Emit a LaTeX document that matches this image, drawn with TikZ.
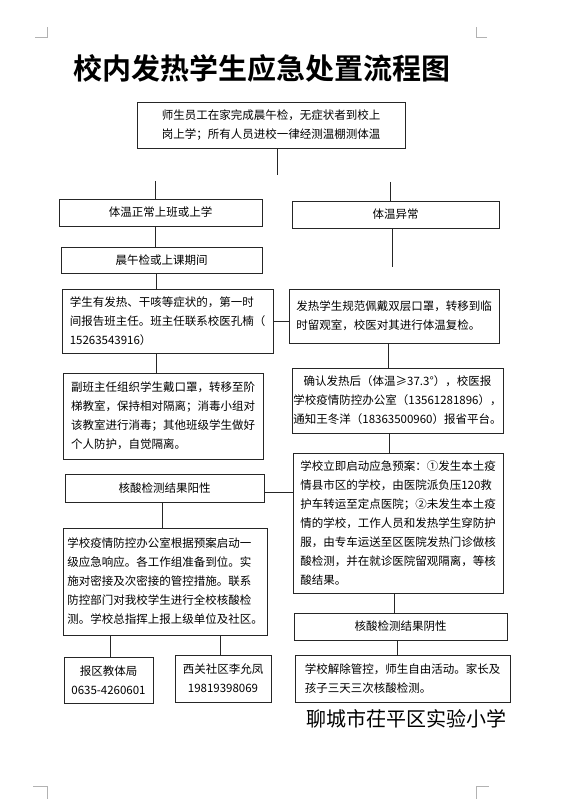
\documentclass[tikz,border=0pt]{standalone}
\usepackage{fontspec}
\setmainfont{Noto Sans CJK SC}
\newfontfamily\titlefont{Noto Sans CJK SC Bold}
\usetikzlibrary{positioning}

\begin{document}
\begin{tikzpicture}[
x=1pt, y=-1pt,
box/.style={rectangle, draw=black!85, line width=0.8pt, inner sep=0pt, align=center,
  font=\fontsize{11.5}{19}\selectfont},
leftbox/.style={box, align=left},
link/.style={draw=black!85, line width=0.8pt},
corner/.style={draw=black!30, line width=0.6pt}
]
\useasboundingbox (0,0) rectangle (570,799);

% page corner marks
\draw[corner] (35,37) -- (47,37) -- (47,27);
\draw[corner] (487,37) -- (476,37) -- (476,27);
\draw[corner] (33,786) -- (47,786) -- (47,799);
\draw[corner] (489,786) -- (476,786) -- (476,799);

% title
\node[font=\titlefont\fontsize{29}{32}\selectfont] (title) at (262,68) {校内发热学生应急处置流程图};

% boxes
\node[box, minimum width=268, minimum height=46] (check) at (271,125)
  {师生员工在家完成晨午检，无症状者到校上\\岗上学；所有人员进校一律经测温棚测体温};
\node[box, minimum width=203, minimum height=27] (normal) at (160.5,212.5) {体温正常上班或上学};
\node[box, minimum width=207, minimum height=27] (abnormal) at (395.5,214.5) {体温异常};
\node[box, minimum width=201, minimum height=26] (period) at (161.5,260) {晨午检或上课期间};
\node[leftbox, minimum width=211, minimum height=64] (report) at (167.5,321)
  {学生有发热、干咳等症状的，第一时\\间报告班主任。班主任联系校医孔楠（\\15263543916）};
\node[leftbox, minimum width=210, minimum height=54] (isolate) at (394,316)
  {发热学生规范佩戴双层口罩，转移到临\\时留观室，校医对其进行体温复检。};
\node[leftbox, minimum width=200, minimum height=86] (transfer) at (163,416)
  {副班主任组织学生戴口罩，转移至阶\\梯教室，保持相对隔离；消毒小组对\\该教室进行消毒；其他班级学生做好\\个人防护，自觉隔离。};
\node[box, minimum width=211, minimum height=65] (confirm) at (397.5,400.5)
  {确认发热后（体温≥37.3°），校医报\\学校疫情防控办公室（13561281896），\\通知王冬洋（18363500960）报省平台。};
\node[leftbox, minimum width=210, minimum height=140] (plan) at (398,523)
  {学校立即启动应急预案：①发生本土疫\\情县市区的学校，由医院派负压120救\\护车转运至定点医院；②未发生本土疫\\情的学校，工作人员和发热学生穿防护\\服，由专车运送至区医院发热门诊做核\\酸检测，并在就诊医院留观隔离，等核\\酸结果。};
\node[box, minimum width=199, minimum height=28] (positive) at (164.5,488) {核酸检测结果阳性};
\node[leftbox, minimum width=204, minimum height=107] (respond) at (165,581.5)
  {学校疫情防控办公室根据预案启动一\\级应急响应。各工作组准备到位。实\\施对密接及次密接的管控措施。联系\\防控部门对我校学生进行全校核酸检\\测。学校总指挥上报上级单位及社区。};
\node[box, minimum width=213, minimum height=27] (negative) at (400.5,626.5) {核酸检测结果阴性};
\node[box, minimum width=89, minimum height=46] (bureau) at (108.5,680) {报区教体局\\0635-4260601};
\node[box, minimum width=96, minimum height=47] (community) at (223,678.5) {西关社区李允凤\\19819398069};
\node[leftbox, minimum width=215, minimum height=47] (release) at (402.5,678.5)
  {学校解除管控，师生自由活动。家长及\\孩子三天三次核酸检测。};

% footer
\node[font=\fontsize{20}{24}\selectfont] (school) at (406,719) {聊城市茌平区实验小学};

% connector ends
\coordinate (checkend) at (277,175);
\coordinate (leftstub) at (155,181);
\coordinate (rightstub) at (390,182);
\coordinate (abnend) at (392,267);
\coordinate (posline) at (0,492);

% connectors
\draw[link] (check.south -| checkend) -- (checkend);
\draw[link] (leftstub) -- (normal.north -| leftstub);
\draw[link] (rightstub) -- (abnormal.north -| rightstub);
\draw[link] (normal.south -| leftstub) -- (period.north -| leftstub);
\draw[link] (abnormal.south -| abnend) -- (abnend);
\draw[link] (period.south -| 156,0) -- (report.north -| 156,0);
\draw[link] (report.east) -- (isolate.west |- report.east);
\draw[link] (report.south -| 156,0) -- (transfer.north -| 156,0);
\draw[link] (isolate.south -| 388,0) -- (confirm.north -| 388,0);
\draw[link] (confirm.south -| 389,0) -- (plan.north -| 389,0);
\draw[link] (positive.east |- posline) -- (plan.west |- posline);
\draw[link] (plan.south -| 394,0) -- (negative.north -| 394,0);
\draw[link] (negative.south -| 397,0) -- (release.north -| 397,0);
\draw[link] (positive.south -| 162,0) -- (respond.north -| 162,0);
\draw[link] (respond.south -| 110,0) -- (bureau.north -| 110,0);
\draw[link] (respond.south -| 220,0) -- (community.north -| 220,0);

\end{tikzpicture}
\end{document}
